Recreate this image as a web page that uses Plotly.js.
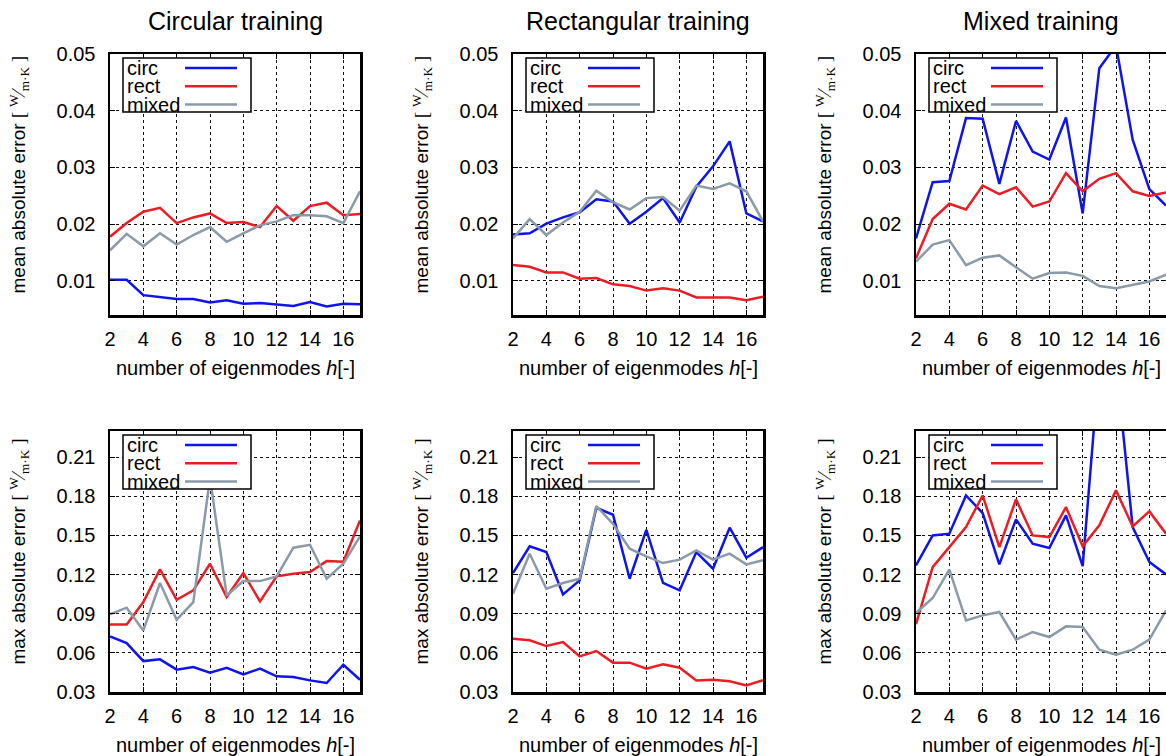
<!DOCTYPE html>
<html>
<head>
<meta charset="utf-8">
<script src="https://cdn.plot.ly/plotly-3.0.1.min.js"></script>
<style>html,body{margin:0;padding:0;background:#fff;}#chart{width:1166px;height:756px;}</style>
</head>
<body>
<div id="chart"></div>
<script>
// ---- data ----
const h = [2,3,4,5,6,7,8,9,10,11,12,13,14,15,16,17];
const seriesNames = ['circ','rect','mixed'];
const panelTitles = ['Circular training','Rectangular training','Mixed training'];
const yTicksMean = [0.01,0.02,0.03,0.04,0.05];
const yTicksMax = [0.03,0.06,0.09,0.12,0.15,0.18,0.21];
const xTicks = [2,4,6,8,10,12,14,16];

const meanCircTrain_circ  = [0.0102,0.0102,0.0075,0.0072,0.0068,0.0068,0.0062,0.0066,0.0060,0.0061,0.0058,0.0056,0.0063,0.0055,0.0060,0.0059];
const meanCircTrain_rect  = [0.0178,0.0202,0.0222,0.0229,0.0202,0.0212,0.0219,0.0202,0.0204,0.0195,0.0232,0.0206,0.0232,0.0238,0.0216,0.0218];
const meanCircTrain_mixed = [0.0154,0.0183,0.0161,0.0184,0.0164,0.0181,0.0195,0.0169,0.0184,0.0198,0.0205,0.0216,0.0216,0.0214,0.0202,0.0258];

const meanRectTrain_circ  = [0.0182,0.0184,0.0201,0.0212,0.0221,0.0244,0.0240,0.0201,0.0222,0.0246,0.0203,0.0266,0.0302,0.0346,0.0219,0.0205];
const meanRectTrain_rect  = [0.0128,0.0125,0.0115,0.0115,0.0104,0.0105,0.0094,0.0091,0.0083,0.0087,0.0083,0.0071,0.0071,0.0071,0.0066,0.0072];
const meanRectTrain_mixed = [0.0175,0.0209,0.0181,0.0203,0.0222,0.0259,0.0239,0.0226,0.0246,0.0248,0.0224,0.0268,0.0262,0.0272,0.0258,0.0205];

const meanMixTrain_circ   = [0.0175,0.0274,0.0276,0.0387,0.0386,0.0271,0.0382,0.0328,0.0314,0.0388,0.0219,0.0475,0.0515,0.0349,0.0262,0.0233];
const meanMixTrain_rect   = [0.0140,0.0209,0.0236,0.0226,0.0268,0.0253,0.0265,0.0231,0.0240,0.0290,0.0258,0.0280,0.0290,0.0258,0.0250,0.0256];
const meanMixTrain_mixed  = [0.0134,0.0164,0.0172,0.0128,0.0141,0.0145,0.0124,0.0104,0.0114,0.0115,0.0109,0.0091,0.0087,0.0093,0.0099,0.0111];

const maxCircTrain_circ   = [0.0726,0.0675,0.0537,0.0550,0.0471,0.0491,0.0448,0.0486,0.0435,0.0479,0.0420,0.0415,0.0389,0.0369,0.0509,0.0394];
const maxCircTrain_rect   = [0.0818,0.0818,0.0989,0.1240,0.1007,0.1079,0.1283,0.1028,0.1211,0.0994,0.1186,0.1206,0.1219,0.1303,0.1298,0.1615];
const maxCircTrain_mixed  = [0.0895,0.0946,0.0772,0.1135,0.0854,0.0989,0.1940,0.1040,0.1150,0.1150,0.1186,0.1406,0.1428,0.1168,0.1283,0.1492];

const maxRectTrain_circ   = [0.1211,0.1416,0.1372,0.1048,0.1155,0.1712,0.1658,0.1168,0.1543,0.1137,0.1079,0.1372,0.1245,0.1559,0.1329,0.1410];
const maxRectTrain_rect   = [0.0709,0.0696,0.0652,0.0683,0.0573,0.0614,0.0525,0.0525,0.0479,0.0512,0.0486,0.0389,0.0394,0.0382,0.0351,0.0390];
const maxRectTrain_mixed  = [0.1053,0.1360,0.1091,0.1135,0.1168,0.1725,0.1589,0.1398,0.1339,0.1288,0.1314,0.1385,0.1314,0.1360,0.1278,0.1310];

const maxMixTrain_circ    = [0.1270,0.1500,0.1513,0.1806,0.1671,0.1278,0.1623,0.1436,0.1403,0.1653,0.1265,0.2830,0.2830,0.1564,0.1296,0.1201];
const maxMixTrain_rect    = [0.0820,0.1257,0.1410,0.1564,0.1806,0.1410,0.1776,0.1500,0.1487,0.1717,0.1416,0.1577,0.1845,0.1569,0.1684,0.1513];
const maxMixTrain_mixed   = [0.0905,0.1020,0.1237,0.0849,0.0887,0.0913,0.0701,0.0760,0.0721,0.0803,0.0798,0.0624,0.0586,0.0624,0.0701,0.0925];

// ---- styling ----
const colors = {circ:'#0f14ec', rect:'#ec1c24', mixed:'#8a9aa8'};
const W = 1166, H = 756;
const colPx = [[110,360],[513,763],[916,1166]];
const rowPx = [[54,315],[431,692]];
const FONT = 'Liberation Sans, Arial, sans-serif';

const panels = [
  {row:0,col:0,data:[meanCircTrain_circ,meanCircTrain_rect,meanCircTrain_mixed]},
  {row:0,col:1,data:[meanRectTrain_circ,meanRectTrain_rect,meanRectTrain_mixed]},
  {row:0,col:2,data:[meanMixTrain_circ,meanMixTrain_rect,meanMixTrain_mixed]},
  {row:1,col:0,data:[maxCircTrain_circ,maxCircTrain_rect,maxCircTrain_mixed]},
  {row:1,col:1,data:[maxRectTrain_circ,maxRectTrain_rect,maxRectTrain_mixed]},
  {row:1,col:2,data:[maxMixTrain_circ,maxMixTrain_rect,maxMixTrain_mixed]},
];

const traces = [];
const layout = {
  width: W, height: H,
  margin: {l:0,r:0,t:0,b:0},
  paper_bgcolor:'#fff', plot_bgcolor:'#fff',
  showlegend:false,
  font:{family:FONT, color:'#000'},
  annotations:[], shapes:[]
};

const px2x = p => p / W;
const px2y = p => 1 - p / H;

panels.forEach((p, i) => {
  const n = i + 1;
  const xa = 'xaxis' + (n === 1 ? '' : n), ya = 'yaxis' + (n === 1 ? '' : n);
  const xr = 'x' + (n === 1 ? '' : n), yr = 'y' + (n === 1 ? '' : n);
  const cp = colPx[p.col], rp = rowPx[p.row];
  const isMean = p.row === 0;
  const common = {
    showline:true, mirror:'allticks', linecolor:'#000', linewidth:2.5,
    showgrid:true, gridcolor:'#111', griddash:'dot', gridwidth:1,
    zeroline:false, ticks:'inside', ticklen:5, tickcolor:'#000', tickwidth:1,
    tickfont:{family:FONT, size:20, color:'#000'}, fixedrange:true
  };
  layout[xa] = Object.assign({}, common, {
    domain:[px2x(cp[0]), px2x(cp[1])], anchor: yr,
    range:[2,17], tickvals:xTicks, ticktext:xTicks.map(String), ticklabelstandoff:4
  });
  layout[ya] = Object.assign({}, common, {
    domain:[px2y(rp[1]), px2y(rp[0])], anchor: xr,
    range: isMean ? [0.004,0.05] : [0.03,0.23],
    tickvals: isMean ? yTicksMean : yTicksMax,
    ticktext: (isMean ? yTicksMean : yTicksMax).map(v => v.toFixed(2)),
    ticklabelstandoff:8
  });
  p.data.forEach((arr, k) => {
    traces.push({
      type:'scatter', mode:'lines', x:h, y:arr, xaxis:xr, yaxis:yr,
      name:seriesNames[k], line:{color:colors[seriesNames[k]], width:2.5},
      hoverinfo:'skip'
    });
  });
  // custom legend (gnuplot-style: text left, sample right)
  const L = cp[0], T = rp[0];
  layout.shapes.push({type:'rect', xref:'paper', yref:'paper',
    x0:px2x(L+13), x1:px2x(L+141), y0:px2y(T+4), y1:px2y(T+58),
    line:{color:'#000', width:1.5}, fillcolor:'#fff', layer:'above'});
  seriesNames.forEach((s, k) => {
    const yc = T + 14 + 18.3*k;
    layout.annotations.push({xref:'paper', yref:'paper', x:px2x(L+15), y:px2y(yc),
      xanchor:'left', yanchor:'middle', text:s, showarrow:false,
      font:{family:FONT, size:20, color:'#000'}});
    layout.shapes.push({type:'line', xref:'paper', yref:'paper',
      x0:px2x(L+75), x1:px2x(L+127), y0:px2y(yc), y1:px2y(yc),
      line:{color:colors[s], width:2.5}, layer:'above'});
  });
  // x-axis title
  layout.annotations.push({xref:'paper', yref:'paper', x:px2x((cp[0]+cp[1])/2), y:px2y(rp[1]+53),
    xanchor:'center', yanchor:'middle', showarrow:false,
    text:'number of eigenmodes <i>h</i>[-]', font:{family:FONT, size:20, color:'#000'}});
  // y-axis title
  const lab = (isMean ? 'mean' : 'max') + ' absolute error <span style="font-family:Liberation Serif">[ <sup>W</sup>⁄<sub>m·K</sub> ]</span>';
  layout.annotations.push({xref:'paper', yref:'paper', x:px2x(cp[0]-91), y:px2y((rp[0]+rp[1])/2 - 10),
    xanchor:'center', yanchor:'middle', showarrow:false, textangle:-90,
    text:lab, font:{family:FONT, size:19, color:'#000'}});
  if (p.row === 0) {
    layout.annotations.push({xref:'paper', yref:'paper', x:px2x((cp[0]+cp[1])/2), y:px2y(21),
      xanchor:'center', yanchor:'middle', showarrow:false,
      text:panelTitles[p.col], font:{family:FONT, size:25, color:'#000'}});
  }
});

Plotly.newPlot('chart', traces, layout, {staticPlot:true, displayModeBar:false});
</script>
</body>
</html>
